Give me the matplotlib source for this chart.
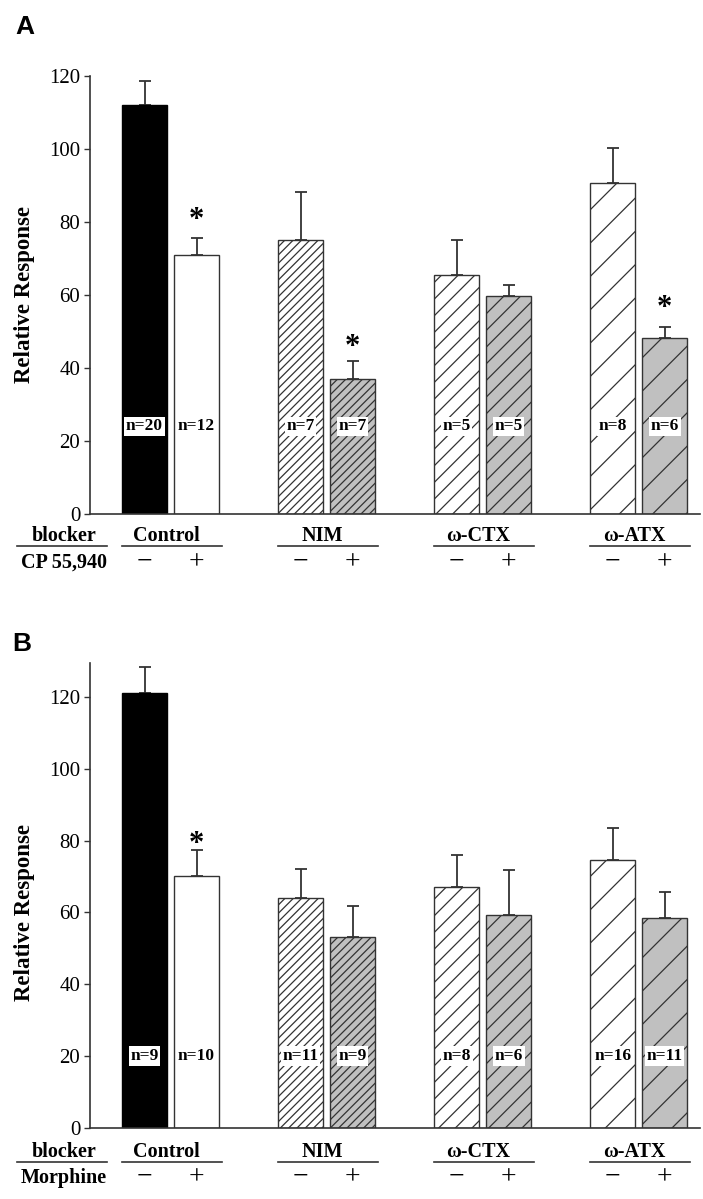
import matplotlib
matplotlib.use('Agg')
import matplotlib.pyplot as plt
from matplotlib.transforms import blended_transform_factory

plt.rcParams['font.family'] = ['Liberation Serif', 'DejaVu Serif']
plt.rcParams['hatch.linewidth'] = 0.9

# ---------------- data ----------------
groups = ['Control', 'NIM', 'ω-CTX', 'ω-ATX']
signs = ['−', '+']

a_mean = [112.0, 71.0, 75.0, 37.0, 65.5, 59.6, 90.6, 48.2]
a_sem = [6.5, 4.6, 13.2, 4.8, 9.7, 3.1, 9.7, 2.9]
a_n = ['n=20', 'n=12', 'n=7', 'n=7', 'n=5', 'n=5', 'n=8', 'n=6']
a_star_bars = [1, 3, 7]
a_star_y = [82.0, 47.2, 57.7]

b_mean = [121.0, 70.0, 64.0, 53.2, 67.0, 59.2, 74.5, 58.5]
b_sem = [7.4, 7.3, 8.0, 8.5, 9.0, 12.5, 9.1, 7.1]
b_n = ['n=9', 'n=10', 'n=11', 'n=9', 'n=8', 'n=6', 'n=16', 'n=11']
b_star_bars = [1]
b_star_y = [80.5]

yticks = [0, 20, 40, 60, 80, 100, 120]

# ---------------- styling ----------------
faces = ['black', 'white', 'white', '#c0c0c0', 'white', '#c0c0c0', 'white', '#c0c0c0']
hatches = ['', '', '////', '////', '//', '//', '/', '/']
edge = '#333333'

W, H = 703, 1199
fig = plt.figure(figsize=(W / 100, H / 100), dpi=100)


def ax_rect(l, r, t, b):
    return [l / W, 1 - b / H, (r - l) / W, (b - t) / H]


def fy(py):
    return 1 - py / H


def fx(px):
    return px / W


xpos = [3 * g + s for g in range(len(groups)) for s in range(2)]
bw = 0.865


def panel(ax, means, sems, ns, n_y, star_bars, star_y, ytop, treat, letter,
          letter_xy, row1, line_y, row2):
    ax.errorbar(xpos, means, yerr=[[0] * len(means), sems], fmt='none',
                ecolor=edge, elinewidth=1.3, capsize=4, capthick=1.3, zorder=1)
    for x, m, fc, h in zip(xpos, means, faces, hatches):
        ax.bar(x, m, width=bw, color=fc, edgecolor=('black' if fc == 'black' else edge),
               hatch=h, linewidth=1.0, zorder=2)
    for x, t in zip(xpos, ns):
        ax.text(x, n_y, t, ha='center', va='center', fontsize=12.5, fontweight='bold',
                bbox=dict(facecolor='white', edgecolor='none', pad=1.2), zorder=3)
    for i, y in zip(star_bars, star_y):
        ax.annotate('*', (xpos[i], y), xytext=(0, -4), textcoords='offset points',
                    ha='center', va='center', fontsize=22, fontweight='bold',
                    zorder=3)
    ax.set_xlim(-1.048, 10.68)
    ax.set_ylim(0, ytop)
    ax.set_yticks(yticks)
    ax.tick_params(axis='y', direction='out', length=4, width=1, colors=edge,
                   labelsize=15, labelcolor='black', pad=3)
    ax.tick_params(axis='x', bottom=False, labelbottom=False)
    for s in ['top', 'right']:
        ax.spines[s].set_visible(False)
    for s in ['left', 'bottom']:
        ax.spines[s].set_color(edge)
        ax.spines[s].set_linewidth(1.2)

    # y label
    tr_y = blended_transform_factory(fig.transFigure, ax.transData)
    ax.text(fx(25), 60, 'Relative Response', transform=tr_y, rotation=90,
            ha='center', va='center', fontsize=16.5, fontweight='bold')

    # panel letter
    fig.text(fx(letter_xy[0]), fy(letter_xy[1]), letter, ha='center', va='center',
             fontsize=19, fontweight='bold', family='Liberation Sans')

    # row labels
    fig.text(fx(64), fy(row1), 'blocker', ha='center', va='baseline',
             fontsize=14.5, fontweight='bold')
    fig.text(fx(64), fy(row2), treat, ha='center', va='baseline',
             fontsize=14.5, fontweight='bold')
    fig.add_artist(plt.Line2D([fx(16.6), fx(107)], [fy(line_y), fy(line_y)],
                              color=edge, lw=1.2))

    tr = blended_transform_factory(ax.transData, fig.transFigure)
    for g, name in enumerate(groups):
        c = 3 * g + 0.5
        ax.text(c - 0.08, fy(row1), name, transform=tr, ha='center', va='baseline',
                fontsize=14.5, fontweight='bold', clip_on=False)
        ax.plot([3 * g - bw / 2, 3 * g + 1 + bw / 2 + 0.05], [fy(line_y)] * 2,
                transform=tr, color=edge, lw=1.2, clip_on=False)
        for s, sg in enumerate(signs):
            ax.text(3 * g + s, fy(row2 + 1), sg, transform=tr, ha='center',
                    va='baseline', fontsize=20, clip_on=False)


axA = fig.add_axes(ax_rect(90, 700, 76, 514))
panel(axA, a_mean, a_sem, a_n, 24, a_star_bars, a_star_y, 120, 'CP 55,940', 'A',
      (25, 27), 541, 546, 568)

axB = fig.add_axes(ax_rect(90, 700, 663, 1128))
panel(axB, b_mean, b_sem, b_n, 20, b_star_bars, b_star_y, 129.4, 'Morphine', 'B',
      (22, 644), 1157, 1162, 1183)

fig.savefig('out.png', dpi=100, facecolor='white')
